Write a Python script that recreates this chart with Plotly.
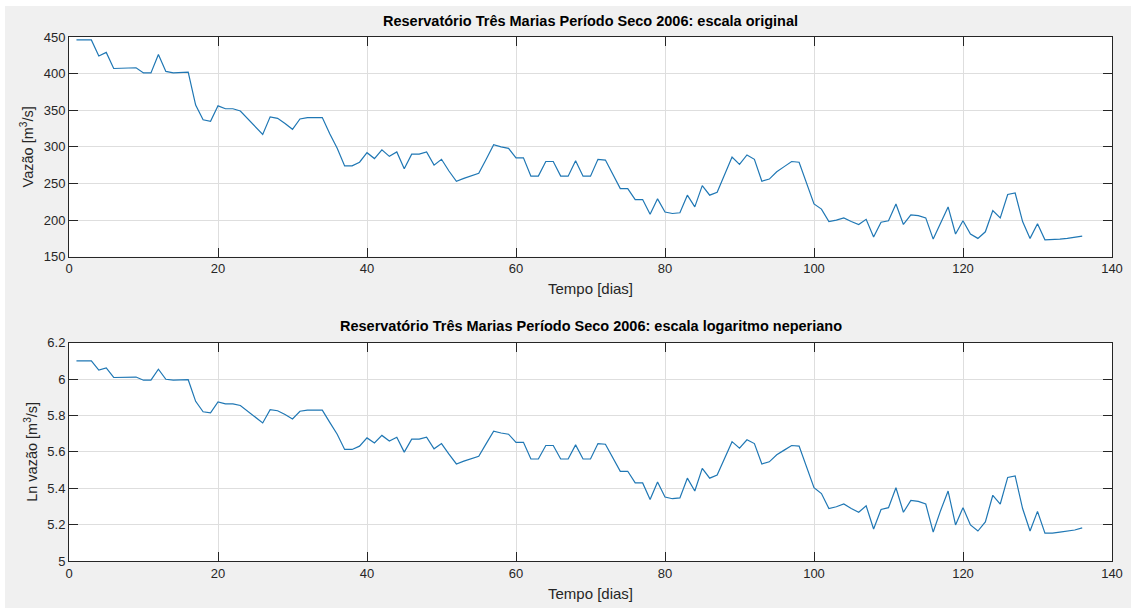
import numpy as np
import plotly.graph_objects as go
from plotly.subplots import make_subplots

# ---- data ----
dias = list(range(1, 137))
vazao = [446, 446, 446, 424, 429, 407, 407, 408, 408, 401,
         401, 426, 403, 401, 402, 402, 357, 337, 335, 356,
         352, 352, 349, 338, 327, 317, 341, 339, 332, 324,
         338, 340, 340, 340, 318, 298, 274, 274, 279, 292,
         284, 296, 287, 293, 270, 290, 290, 293, 275, 283,
         267, 253, 257, 260, 264, 283, 303, 300, 298, 285,
         285, 260, 260, 280, 280, 260, 260, 281, 260, 260,
         283, 282, 262, 243, 243, 228, 228, 208, 229, 211,
         209, 210, 234, 218, 247, 234, 238, 262, 286, 276,
         289, 283, 253, 256, 266, 273, 280, 279, 250, 222,
         215, 198, 200, 203, 198, 194, 201, 177, 197, 199,
         222, 194, 207, 206, 203, 174, 196, 218, 181, 199,
         181, 175, 184, 213, 203, 235, 237, 198, 175, 195,
         173, 173, 174, 175, 176, 178]
ln_vazao = np.log(np.array(vazao, dtype=float))

x_ticks = [0, 20, 40, 60, 80, 100, 120, 140]
y1_ticks = [150, 200, 250, 300, 350, 400, 450]
y2_ticks = [5, 5.2, 5.4, 5.6, 5.8, 6, 6.2]
y2_ticklabels = ["5", "5.2", "5.4", "5.6", "5.8", "6", "6.2"]

titulo1 = "Reservatório Três Marias Período Seco 2006: escala original"
titulo2 = "Reservatório Três Marias Período Seco 2006: escala logaritmo neperiano"

# ---- figure ----
W, H = 1131, 608
ml, mr, mt, mb = 69, 19, 37, 47
ph = H - mt - mb
pw = W - ml - mr

fig = make_subplots(rows=2, cols=1, vertical_spacing=0.0)
line_color = "#1f77b4"
fig.add_trace(go.Scatter(x=dias, y=vazao, mode="lines",
                         line=dict(color=line_color, width=1.2),
                         showlegend=False), row=1, col=1)
fig.add_trace(go.Scatter(x=dias, y=ln_vazao, mode="lines",
                         line=dict(color=line_color, width=1.2),
                         showlegend=False), row=2, col=1)

axcol = "#262626"
gridcol = "#dedede"
font = "Liberation Sans, Arial, sans-serif"

common_ax = dict(showline=True, linecolor=axcol, linewidth=1, mirror="ticks",
                 ticks="inside", ticklen=9, tickcolor=axcol, tickwidth=1,
                 showgrid=True, gridcolor=gridcol, gridwidth=1, zeroline=False,
                 automargin=False,
                 tickfont=dict(family=font, size=13, color=axcol))

top_y0 = (H - mb - 256.7) / ph
bot_y1 = (H - mb - 342.7) / ph

xtitle_font = dict(family=font, size=15, color=axcol)
ytitle_font = dict(family=font, size=14.5, color=axcol)

fig.update_xaxes(**common_ax, range=[0, 140], tickvals=x_ticks)
fig.update_yaxes(**common_ax)
fig.update_layout(
    xaxis=dict(domain=[0, 1], title=dict(text="Tempo [dias]", standoff=8, font=xtitle_font)),
    xaxis2=dict(domain=[0, 1], title=dict(text="Tempo [dias]", standoff=8, font=xtitle_font)),
    yaxis=dict(domain=[top_y0, 1], range=[150, 450], tickvals=y1_ticks,
               title=dict(text="Vazão [m<sup>3</sup>/s]", standoff=6, font=ytitle_font)),
    yaxis2=dict(domain=[0, bot_y1], range=[5, 6.2], tickvals=y2_ticks,
                ticktext=y2_ticklabels,
                title=dict(text="Ln vazão [m<sup>3</sup>/s]", standoff=6, font=ytitle_font)),
)

fig.add_annotation(text="<b>" + titulo1 + "</b>", xref="paper", yref="paper",
                   x=0.5, y=(H - mb - 21) / ph, xanchor="center", yanchor="middle",
                   showarrow=False, font=dict(family=font, size=14.5, color="#000000"))
fig.add_annotation(text="<b>" + titulo2 + "</b>", xref="paper", yref="paper",
                   x=0.5, y=(H - mb - 326) / ph, xanchor="center", yanchor="middle",
                   showarrow=False, font=dict(family=font, size=14.5, color="#000000"))

# thin white border at top and left of the gray figure background
fig.add_shape(type="rect", xref="paper", yref="paper", layer="above",
              x0=(0 - ml) / pw, x1=(5 - ml) / pw, y0=(H - mb - H) / ph, y1=(H - mb) / ph,
              line=dict(width=0), fillcolor="#ffffff")
fig.add_shape(type="rect", xref="paper", yref="paper", layer="above",
              x0=(0 - ml) / pw, x1=(W - ml) / pw, y0=(H - mb - 6) / ph, y1=(H - mb) / ph,
              line=dict(width=0), fillcolor="#ffffff")

fig.update_layout(width=W, height=H, margin=dict(l=ml, r=mr, t=mt, b=mb, autoexpand=False),
                  paper_bgcolor="#f0f0f0", plot_bgcolor="#ffffff",
                  font=dict(family=font, color=axcol), showlegend=False)

fig.write_html("out.html")
